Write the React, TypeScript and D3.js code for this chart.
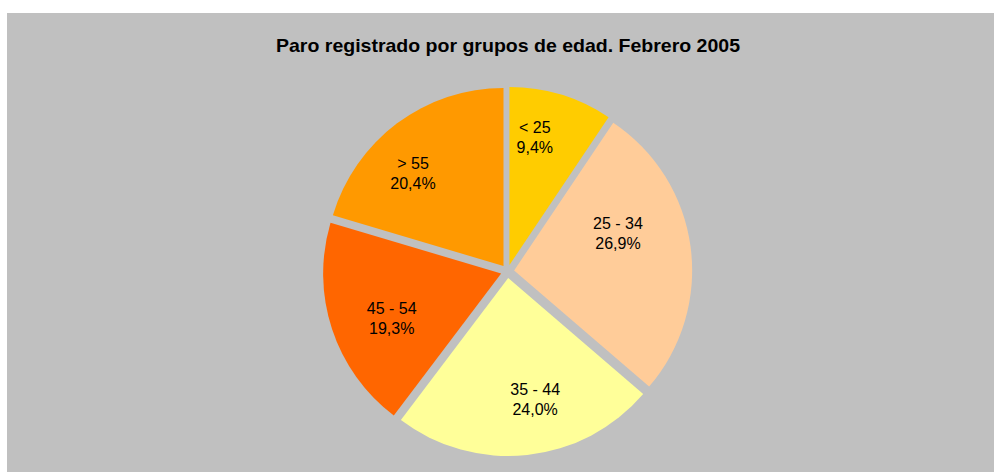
import React from "react";
import * as d3 from "d3";

const categories = ["< 25", "25 - 34", "35 - 44", "45 - 54", "> 55"];
const values = [9.4, 26.9, 24.0, 19.3, 20.4];
const colors = ["#FFCC00", "#FFCC99", "#FFFF99", "#FF6600", "#FF9900"];
const title = "Paro registrado por grupos de edad. Febrero 2005";

const W = 994;
const H = 472;
const cx = 507.5;
const cy = 271.4;
const R = 178;
const explode = 6.7;

export default function App() {
  const pie = d3.pie<number>().sort(null).value((d) => d);
  const arcs = pie(values);
  const arcGen = d3.arc<d3.PieArcDatum<number>>().innerRadius(0).outerRadius(R);
  const fmt = (v: number) => v.toFixed(1).replace(".", ",") + "%";

  return (
    <svg
      width={W}
      height={H}
      style={{ position: "absolute", left: 0, top: 0, display: "block" }}
      fontFamily="'Liberation Sans', Arial, sans-serif"
    >
      <rect x={0} y={0} width={W} height={H} fill="#ffffff" />
      <rect x={7} y={13} width={W - 7} height={H - 13} fill="#C0C0C0" />
      <text
        x={508}
        y={52}
        textAnchor="middle"
        fontWeight="bold"
        fontSize={18.5}
        textLength={464}
        lengthAdjust="spacingAndGlyphs"
        fill="#000"
      >
        {title}
      </text>
      <g transform={`translate(${cx},${cy})`}>
        {arcs.map((a, i) => {
          const mid = (a.startAngle + a.endAngle) / 2;
          const dx = Math.sin(mid) * explode;
          const dy = -Math.cos(mid) * explode;
          return (
            <path
              key={i}
              transform={`translate(${dx},${dy})`}
              d={arcGen(a) || ""}
              fill={colors[i]}
            />
          );
        })}
      </g>
      <g transform={`translate(${cx - 5},${cy - 4})`}>
        {arcs.map((a, i) => {
          const mid = (a.startAngle + a.endAngle) / 2;
          const span = a.endAngle - a.startAngle;
          const s = Math.sin(mid);
          const lr = 0.765 * R - 0.09 * R * s * s;
          const la = mid - 0.09 * span;
          const lx = Math.sin(la) * lr;
          const ly = -Math.cos(la) * lr;
          return (
            <text
              key={"t" + i}
              x={lx}
              y={ly}
              textAnchor="middle"
              fontSize={16}
              fill="#000"
            >
              <tspan x={lx} dy={-4}>
                {categories[i]}
              </tspan>
              <tspan x={lx} dy={20}>
                {fmt(values[i])}
              </tspan>
            </text>
          );
        })}
      </g>
    </svg>
  );
}
